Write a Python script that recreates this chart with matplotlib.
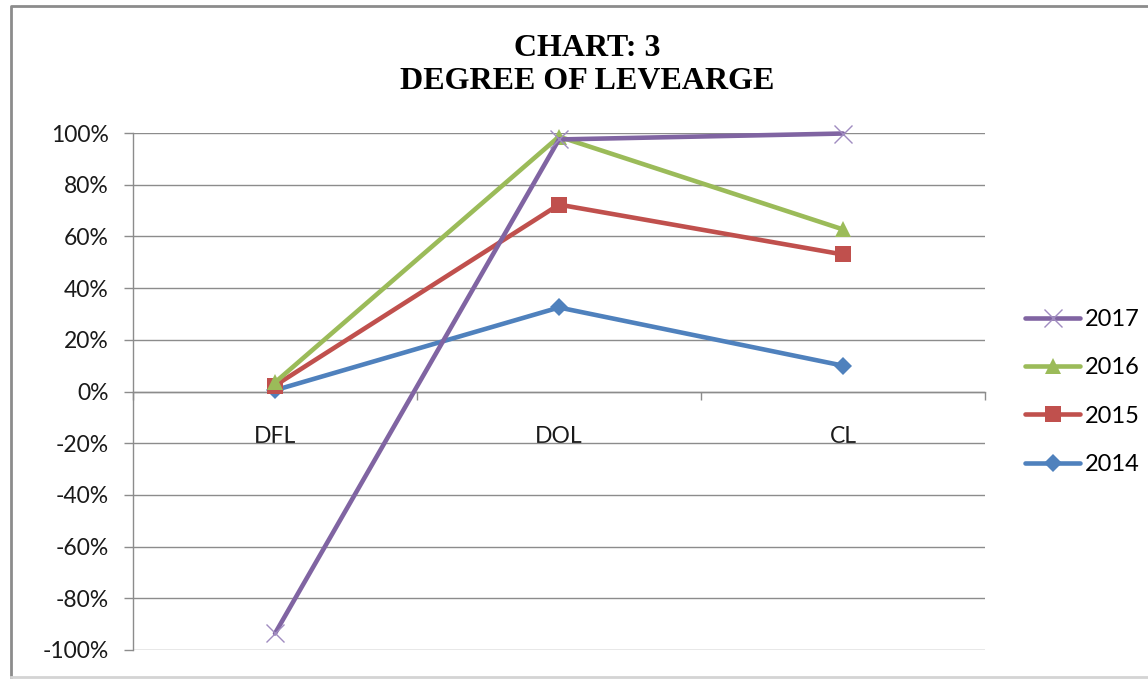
import matplotlib
matplotlib.use("Agg")
import matplotlib.pyplot as plt
from matplotlib.lines import Line2D
from matplotlib.ticker import FixedLocator, PercentFormatter

plt.rcParams["axes.unicode_minus"] = False

categories = ["DFL", "DOL", "CL"]
years = ["2014", "2015", "2016", "2017"]
v2014 = [0.5, 32.5, 10.0]
v2015 = [2.3, 72.3, 53.0]
v2016 = [3.5, 98.6, 62.7]
v2017 = [-93.6, 97.5, 99.8]
y_ticks = [-100, -80, -60, -40, -20, 0, 20, 40, 60, 80, 100]

series = [
    ("2014", v2014, "#4F81BD", "D", 9),
    ("2015", v2015, "#C0504D", "s", 11),
    ("2016", v2016, "#9BBB59", "^", 12),
    ("2017", v2017, "#8064A2", "x", 13),
]

W, H = 1148, 679
fig = plt.figure(figsize=(W / 100, H / 100), dpi=100)
fig.patch.set_facecolor("white")

# outer chart frame: darker top/left edges, faint bottom edge
fig.lines.append(Line2D([11 / W, 11 / W, 1], [1 - 677 / H, 1 - 6 / H, 1 - 6 / H],
                        transform=fig.transFigure, color="#8c8c8c", lw=2))
fig.lines.append(Line2D([11 / W, 1], [1 - 677 / H, 1 - 677 / H],
                        transform=fig.transFigure, color="#d4d4d4", lw=2))

ax = fig.add_axes([133 / W, 1 - 650 / H, (985 - 133) / W, (650 - 133) / H])
ax.set_xlim(-0.5, 2.5)
ax.set_ylim(-100, 100)

x = list(range(len(categories)))
handles = {}
for name, vals, col, mk, ms in series:
    if mk == "x":
        h, = ax.plot(x, vals, color=col, lw=3.3, marker=mk, ms=ms, mew=1.0,
                     mec="#a08cc0", solid_capstyle="round", zorder=3, clip_on=False)
    else:
        h, = ax.plot(x, vals, color=col, lw=3.3, marker=mk, ms=ms, mew=0,
                     solid_capstyle="round", zorder=3, clip_on=False)
    handles[name] = h

# grid and axes styling
ax.yaxis.set_major_locator(FixedLocator(y_ticks))
ax.yaxis.set_major_formatter(PercentFormatter(decimals=0))
ax.grid(axis="y", color="#8c8c8c", lw=1)
ax.set_axisbelow(True)
for s in ["top", "right"]:
    ax.spines[s].set_visible(False)
ax.spines["left"].set_color("#8c8c8c")
ax.spines["left"].set_linewidth(1)
ax.spines["bottom"].set_position(("data", 0))
ax.spines["bottom"].set_color("#8c8c8c")
ax.spines["bottom"].set_linewidth(1)
ax.tick_params(axis="y", length=6.5, width=1, color="#8c8c8c", pad=11,
               labelsize=16.5, labelcolor="#1a1a1a")
for lab in ax.get_yticklabels():
    lab.set_fontfamily("Lato")

ax.set_xticks(x)
ax.set_xticklabels(categories, fontfamily="Lato", fontsize=16.5, color="#1a1a1a")
ax.set_xticks([-0.5, 0.5, 1.5, 2.5], minor=True)
ax.tick_params(axis="x", which="major", length=0, pad=25)
ax.tick_params(axis="x", which="minor", length=6, width=1, color="#8c8c8c",
               direction="out")

fig.text(587 / W, 1 - 65 / H, "CHART: 3\nDEGREE OF LEVEARGE", ha="center", va="center",
         fontfamily="Liberation Serif", fontweight="bold", fontsize=23,
         linespacing=1.22, color="black")

order = ["2017", "2016", "2015", "2014"]
leg = fig.legend([handles[k] for k in order], order, loc="center left",
                 bbox_to_anchor=(1004 / W, 1 - 392 / H), frameon=False,
                 prop={"family": "Lato", "size": 17}, handlelength=2.33,
                 handletextpad=0.2, labelspacing=1.16)

fig.savefig("out.png", dpi=100, facecolor="white")
